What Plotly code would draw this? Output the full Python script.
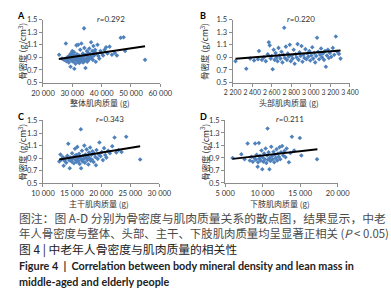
import plotly.graph_objects as go

# ---------------- data ----------------
a_x = [25500, 26500, 27200, 27800, 28000, 28300, 28600, 28800, 29000, 29200, 29400, 29500, 29700, 29900,
       30000, 30100, 30200, 30300, 30500, 30600, 30700, 30800, 31000, 31100, 31200, 31400, 31500, 31600,
       31800, 31900, 32000, 32100, 32300, 32400, 32500, 32700, 32800, 33000, 33100, 33200, 34000, 33500,
       33600, 33700, 33900, 34000, 34100, 34300, 34500, 34600, 34800, 35000, 35100, 35300, 35500, 35600,
       35800, 36000, 36200, 36400, 36600, 36800, 37000, 37200, 37400, 37600, 37800, 38000, 38300, 38600,
       38900, 39200, 39600, 40000, 40500, 41000, 41500, 42000, 42700, 43500, 44500, 45200, 46500, 47500,
       48000, 54800]
a_y = [0.94, 0.88, 0.86, 1.12, 0.84, 0.90, 0.87, 0.82, 0.93, 0.88, 0.75, 0.96, 0.85, 0.91,
       1.00, 0.87, 0.94, 0.83, 0.89, 0.98, 0.72, 0.86, 0.92, 0.80, 0.88, 1.09, 0.85, 0.95,
       0.90, 0.83, 1.10, 0.87, 0.93, 0.81, 0.88, 1.02, 0.86, 0.91, 1.12, 0.84, 1.36, 0.89,
       0.96, 0.82, 0.92, 0.87, 1.05, 0.85, 0.73, 0.94, 0.88, 1.00, 0.83, 0.91, 0.97, 0.86,
       1.04, 0.89, 0.95, 1.14, 0.90, 1.00, 0.86, 1.08, 0.93, 0.98, 1.02, 0.83, 0.96, 1.10,
       0.92, 0.88, 1.00, 0.97, 0.93, 1.02, 1.06, 0.96, 1.07, 0.94, 0.97, 0.93, 1.21, 1.22,
       1.00, 0.86]
a_trend_x = [25400, 54800]
a_trend_y = [0.875, 1.075]

b_x = [2230, 2340, 2380, 2420, 2460, 2470, 2500, 2520, 2540, 2560, 2570, 2580, 2590, 2600, 2610, 2620,
       2630, 2640, 2650, 2660, 2670, 2680, 2690, 2700, 2710, 2720, 2728, 2735, 2745, 2755, 2765, 2775,
       2785, 2795, 2805, 2815, 2825, 2835, 2845, 2855, 2865, 2875, 2885, 2895, 2905, 2915, 2925, 2935,
       2945, 2955, 2965, 2975, 2985, 2995, 3005, 3015, 3025, 3035, 3045, 3055, 3064, 3075, 3085, 3095,
       3105, 3115, 3125, 3135, 3145, 3154, 3165, 3175, 3185, 3195, 3210, 3225, 3240, 3256, 3270, 3288,
       3304]
b_y = [0.84, 0.72, 0.88, 0.85, 0.87, 1.00, 0.86, 0.90, 0.84, 0.95, 1.14, 1.09, 0.88, 0.92, 0.71, 1.02,
       0.86, 0.97, 0.90, 0.84, 1.05, 0.93, 0.88, 0.99, 0.82, 0.94, 1.37, 0.89, 1.07, 0.86, 0.96, 0.91,
       1.10, 0.84, 0.93, 0.88, 1.02, 0.80, 0.95, 0.90, 1.11, 0.86, 0.98, 0.92, 1.08, 0.83, 0.94, 0.89,
       1.03, 0.87, 0.96, 0.91, 1.00, 0.85, 0.93, 1.06, 0.88, 0.97, 0.82, 0.92, 1.21, 0.99, 0.87, 0.94,
       1.04, 0.90, 0.96, 0.86, 1.00, 0.75, 0.93, 1.02, 0.89, 0.97, 0.91, 1.05, 0.94, 1.23, 0.99, 0.955,
       0.88]
b_trend_x = [2230, 3304]
b_trend_y = [0.877, 1.007]

c_x = [12800, 13000, 13200, 13400, 13550, 13700, 13900, 14000, 14200, 14350, 14500, 14600, 14700, 14900,
       15000, 15100, 15300, 15400, 15500, 15600, 15700, 15800, 15900, 16000, 16100, 16200, 16300, 16400,
       16500, 16550, 16600, 16700, 16800, 16900, 17000, 17100, 17200, 17300, 17400, 17500, 17600, 17700,
       17800, 17900, 18000, 18100, 18200, 18300, 18400, 18500, 18700, 18800, 19000, 19100, 19200, 19400,
       19600, 19700, 19900, 20100, 20300, 20500, 20700, 20900, 21200, 21500, 21900, 22300, 22600, 23000,
       23500, 24300, 26700]
c_y = [0.85, 0.96, 0.88, 0.92, 0.78, 0.86, 0.90, 0.83, 0.94, 1.13, 0.87, 0.74, 0.91, 0.85,
       0.98, 0.89, 0.82, 0.93, 1.05, 0.87, 0.95, 0.84, 1.08, 0.90, 0.86, 0.97, 0.81, 0.92,
       1.36, 0.74, 0.88, 1.02, 0.85, 0.94, 0.89, 1.10, 0.83, 0.96, 0.91, 1.04, 0.87, 0.93,
       0.80, 0.99, 0.90, 1.07, 0.86, 0.95, 0.88, 1.01, 0.84, 0.97, 0.92, 0.79, 1.03, 0.89,
       0.96, 1.15, 0.93, 1.00, 0.87, 1.06, 0.95, 0.91, 1.02, 0.98, 1.09, 1.23, 0.99, 1.03,
       1.00, 1.24, 0.88]
c_trend_x = [12800, 26700]
c_trend_y = [0.88, 1.09]

d_x = [6000, 7170, 7600, 8000, 8300, 8500, 8700, 8900, 9000, 9100, 9200, 9340, 9400, 9500, 9550, 9650,
       9750, 9850, 9960, 10000, 10100, 10200, 10300, 10400, 10500, 10600, 10660, 10700, 10800, 10910,
       10950, 11050, 11150, 11250, 11350, 11450, 11550, 11650, 11750, 11850, 11950, 12050, 12150, 12250,
       12350, 12450, 12600, 12750, 12900, 13050, 13200, 13500, 13700, 13900, 14200, 14960, 15160, 17250]
d_y = [0.90, 0.96, 0.88, 1.13, 0.86, 0.92, 0.84, 0.90, 1.13, 0.87, 0.95, 0.76, 0.83, 1.14, 0.89, 0.93,
       0.86, 1.02, 0.72, 0.91, 0.84, 0.97, 0.88, 1.05, 0.82, 0.94, 1.37, 0.87, 0.99, 0.72,
       0.90, 0.85, 1.08, 0.93, 0.88, 1.00, 0.83, 0.95, 0.90, 1.04, 0.86, 0.97, 0.92, 1.07,
       0.88, 0.99, 1.09, 0.94, 1.01, 0.91, 1.05, 0.83, 0.98, 1.24, 1.02, 1.22, 0.94, 0.88]
d_trend_x = [6000, 17300]
d_trend_y = [0.885, 1.04]

y_ticks = [0.5, 0.7, 0.9, 1.1, 1.3, 1.5]
y_ticktext = ["0.5", "0.7", "0.9", "1.1", "1.3", "1.5"]
a_ticks = [20000, 30000, 40000, 50000, 60000]
a_ticktext = ["20 000", "30 000", "40 000", "50 000", "60 000"]
b_ticks = [2200, 2400, 2600, 2800, 3000, 3200, 3400]
b_ticktext = ["2 200", "2 400", "2 600", "2 800", "3 000", "3 200", "3 400"]
c_ticks = [10000, 15000, 20000, 25000, 30000]
c_ticktext = ["10 000", "15 000", "20 000", "25 000", "30 000"]
d_ticks = [5000, 10000, 15000, 20000]
d_ticktext = ["5 000", "10 000", "15 000", "20 000"]

letters = ["A", "B", "C", "D"]
r_labels = ["0.292", "0.220", "0.343", "0.211"]
x_titles = ["整体肌肉质量 (g)", "头部肌肉质量 (g)", "主干肌肉质量 (g)", "下肢肌肉质量 (g)"]
y_title = "骨密度 (g/cm<sup>3</sup>)"

caption_lines = [
    "图注：图 A-D 分别为骨密度与肌肉质量关系的散点图，结果显示，中老",
    "年人骨密度与整体、头部、主干、下肢肌肉质量均呈显著正相关 (<i>P</i> < 0.05)",
    "图 4 | 中老年人骨密度与肌肉质量的相关性",
    "Figure 4  |  Correlation between body mineral density and lean mass in",
    "middle-aged and elderly people",
]

# ---------------- layout helpers ----------------
W, H = 391, 300
def px(x):
    return x / W
def py(y):
    return 1 - y / H

CJK = "Noto Sans CJK SC"
LAT = "Lato, Liberation Sans, sans-serif"
MARK = "#4F81BD"
AXC = "#8C8C8C"
TICKC = "#333333"

panels = [
    dict(x=a_x, y=a_y, tx=a_trend_x, ty=a_trend_y, rng=[20000, 60000], tv=a_ticks, tt=a_ticktext,
         dom_x=(33, 158), dom_y=(16, 81), tfs=7.5, xt_off=21),
    dict(x=b_x, y=b_y, tx=b_trend_x, ty=b_trend_y, rng=[2200, 3400], tv=b_ticks, tt=b_ticktext,
         dom_x=(235, 360), dom_y=(16, 81), tfs=6.8, xt_off=21),
    dict(x=c_x, y=c_y, tx=c_trend_x, ty=c_trend_y, rng=[10000, 30000], tv=c_ticks, tt=c_ticktext,
         dom_x=(33, 157), dom_y=(120, 185), tfs=7.5, xt_off=20.5),
    dict(x=d_x, y=d_y, tx=d_trend_x, ty=d_trend_y, rng=[5000, 20000], tv=d_ticks, tt=d_ticktext,
         dom_x=(227, 347), dom_y=(120, 184.5), tfs=7.5, xt_off=21),
]

fig = go.Figure()
layout = dict(
    width=W, height=H, margin=dict(l=0, r=0, t=0, b=0),
    paper_bgcolor="white", plot_bgcolor="white", showlegend=False,
    font=dict(family=LAT, size=8, color=TICKC),
)
annotations = []

for i, p in enumerate(panels):
    n = "" if i == 0 else str(i + 1)
    xa, ya = "x" + n, "y" + n
    fig.add_trace(go.Scatter(x=p["x"], y=p["y"], mode="markers", xaxis=xa, yaxis=ya,
                             marker=dict(symbol="diamond", size=3.5, color=MARK, line=dict(width=0))))
    fig.add_trace(go.Scatter(x=p["tx"], y=p["ty"], mode="lines", xaxis=xa, yaxis=ya,
                             line=dict(color="black", width=2)))
    layout["xaxis" + n] = dict(
        domain=[px(p["dom_x"][0]), px(p["dom_x"][1])], range=p["rng"], anchor=ya,
        tickvals=p["tv"], ticktext=p["tt"], tickangle=0, showline=True, linecolor=AXC, linewidth=1,
        ticks="outside", ticklen=3, tickcolor=AXC, showgrid=False, zeroline=False,
        tickfont=dict(family=LAT, size=p["tfs"], color=TICKC), fixedrange=True)
    layout["yaxis" + n] = dict(
        domain=[py(p["dom_y"][1]), py(p["dom_y"][0])], range=[0.5, 1.5], anchor=xa,
        tickvals=y_ticks, ticktext=y_ticktext, showline=True, linecolor=AXC, linewidth=1,
        ticks="outside", ticklen=3, tickcolor=AXC, showgrid=False, zeroline=False,
        tickfont=dict(family=LAT, size=7.5, color=TICKC), fixedrange=True)

    x0, x1 = p["dom_x"]
    y0, y1 = p["dom_y"]
    left = 10 if i % 2 == 0 else 204
    # panel letter
    annotations.append(dict(text="<b>" + letters[i] + "</b>", x=px(left), y=py(y0 - 4),
                            xref="paper", yref="paper", showarrow=False, xanchor="center",
                            yanchor="middle", font=dict(family=LAT, size=9, color="black")))
    # y title
    annotations.append(dict(text=y_title, x=px(left + 1), y=py(y0 + 33), textangle=-90,
                            xref="paper", yref="paper", showarrow=False, xanchor="center",
                            yanchor="middle", font=dict(family=CJK, size=8.5, color=TICKC)))
    # r label
    annotations.append(dict(text="<i>r</i>=" + r_labels[i], x=px(x0 + (x1 - x0) * 0.58), y=py(y0 - 1),
                            xref="paper", yref="paper", showarrow=False, xanchor="center",
                            yanchor="middle", font=dict(family=LAT, size=8, color=TICKC)))
    # x title
    annotations.append(dict(text=x_titles[i], x=px((x0 + x1) / 2 - 2), y=py(y1 + p["xt_off"]),
                            xref="paper", yref="paper", showarrow=False, xanchor="center",
                            yanchor="middle", font=dict(family=CJK, size=8, color=TICKC)))

cap_y = [220, 236.5, 253, 270, 286.5]
cap_font = [
    dict(family=CJK, size=11.8, color="#4a4a4a"),
    dict(family=CJK, size=11.4, color="#4a4a4a"),
    dict(family=CJK, size=11.8, color="#222222"),
    dict(family=LAT, size=10.8, color="#222222"),
    dict(family=LAT, size=10.8, color="#222222"),
]
for k, line in enumerate(caption_lines):
    txt = line if k < 3 else "<b>" + line + "</b>"
    annotations.append(dict(text=txt, x=px(5), y=py(cap_y[k]), xref="paper", yref="paper",
                            showarrow=False, xanchor="left", yanchor="middle", font=cap_font[k]))

layout["annotations"] = annotations
fig.update_layout(**layout)
fig.write_html("out.html", config={"displayModeBar": False},
               post_script="document.body.style.margin='0';document.body.style.overflow='hidden';")
